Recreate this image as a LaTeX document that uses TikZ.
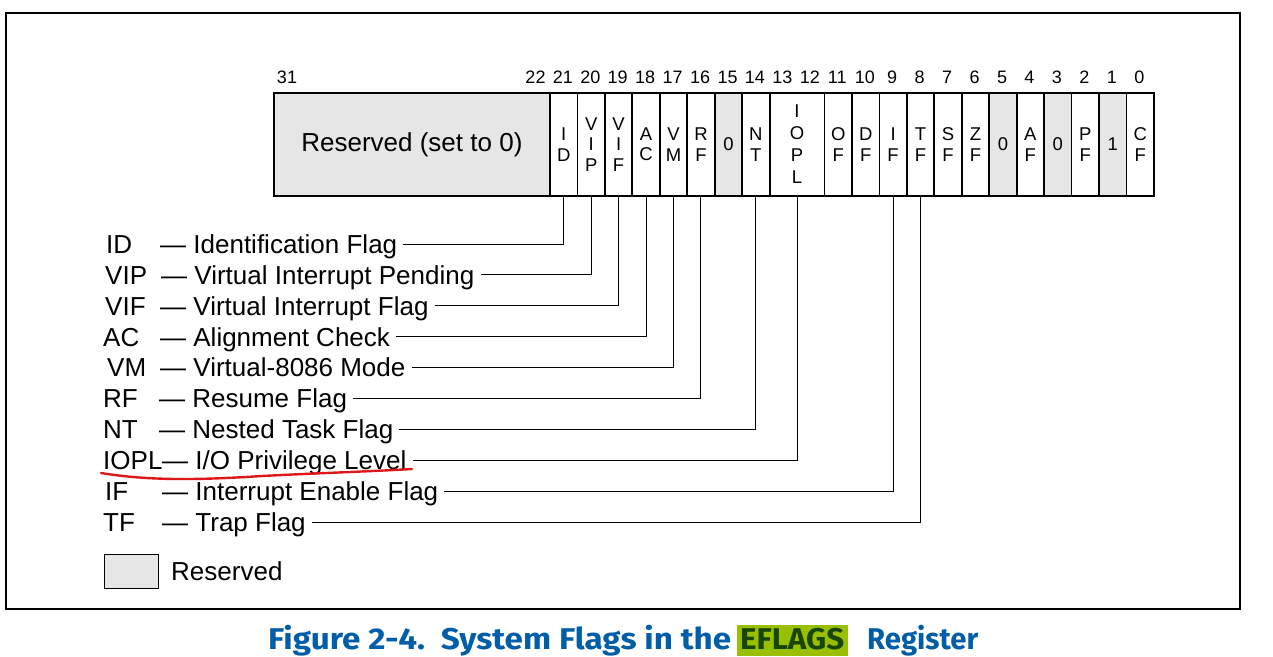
\documentclass[tikz,border=0pt]{standalone}
\usepackage{fontspec}
\setmainfont{Liberation Sans}
\newfontfamily\capfont{Fira Sans}
\usepackage{graphicx}
\definecolor{resgray}{RGB}{230,230,230}
\definecolor{capblue}{RGB}{0,94,168}
\definecolor{hlgreen}{RGB}{153,192,0}
\definecolor{hltext}{RGB}{24,70,0}
\definecolor{penred}{RGB}{222,24,24}
\tikzset{
  cellbox/.style={draw, line width=1.8pt, minimum height=103pt, minimum width=27.45pt,
    inner sep=0pt, anchor=north west, align=center,
    font=\fontsize{18.5}{20.5}\selectfont},
  resbox/.style={cellbox, fill=resgray},
  bitnum/.style={font=\fontsize{18}{18}\selectfont, anchor=base, inner sep=0pt},
  lbl/.style={font=\fontsize{26}{26}\selectfont, anchor=west, inner sep=0pt,
    text height=18.6pt, text depth=0pt},
  leader/.style={line width=1pt},
  capt/.style={font=\capfont\bfseries\fontsize{30}{30}\selectfont, anchor=base west,
    inner sep=0pt, text=capblue},
}
\begin{document}
\begin{tikzpicture}[x=1pt,y=-1pt]
\useasboundingbox (0,0) rectangle (1273,656);
% outer frame
\draw[line width=2pt] (6,13) rectangle (1240,609);

% register
\node[resbox, minimum width=276pt, font=\fontsize{26}{26}\selectfont] (resv) at (273,92) {Reserved (set to 0)};
\foreach \b/\t/\s in {21/{I\\D}/cellbox, 20/{V\\I\\P}/cellbox, 19/{V\\I\\F}/cellbox,
   18/{A\\C}/cellbox, 17/{V\\M}/cellbox, 16/{R\\F}/cellbox, 15/0/resbox,
   14/{N\\T}/cellbox, 11/{O\\F}/cellbox, 10/{D\\F}/cellbox, 9/{I\\F}/cellbox,
   8/{T\\F}/cellbox, 7/{S\\F}/cellbox, 6/{Z\\F}/cellbox, 5/0/resbox,
   4/{A\\F}/cellbox, 3/0/resbox, 2/{P\\F}/cellbox, 1/1/resbox, 0/{C\\F}/cellbox}
  \node[\s] (b\b) at ({1153-(\b+1)*27.45},92) {\t};
\node[cellbox, minimum width=54.9pt, font=\fontsize{18.5}{22}\selectfont] (b13) at ({1153-14*27.45},92) {I\\O\\P\\L};

% bit numbers
\node[bitnum] (n31) at (287,83) {31};
\node[bitnum] (n22) at (535.5,83) {22};
\foreach \b in {21,20,...,0}
  \node[bitnum] (n\b) at ({1153-(\b+0.5)*27.45},83) {\b};

% labels
\foreach \k/\ab/\ax/\de/\dx/\c in {
   0/ID/106/{— Identification Flag}/160/b21,
   1/VIP/105/{— Virtual Interrupt Pending}/161/b20,
   2/VIF/105/{— Virtual Interrupt Flag}/160/b19,
   3/AC/103/{— Alignment Check}/160/b18,
   4/VM/107/{— Virtual-8086 Mode}/160/b17,
   5/RF/103/{— Resume Flag}/159/b16,
   6/NT/103/{— Nested Task Flag}/159/b14,
   7/IOPL/103/{— I/O Privilege Level}/162/b13,
   8/IF/105/{— Interrupt Enable Flag}/162/b9,
   9/TF/103/{— Trap Flag}/162/b8}
{
  \node[lbl] (a\k) at (\ax,{244+30.9*\k}) {\ab};
  \node[lbl] (d\k) at (\dx,{244+30.9*\k}) {\de};
  \draw[leader] (\c.south) |- ([xshift=6pt]d\k.east);
}

% red underline
\draw[penred, line width=2.4pt, line cap=round]
  (101,473) .. controls (150,481) and (200,480) .. (262,476)
            .. controls (320,473) and (380,471) .. (412,469);

% legend
\node[draw, fill=resgray, line width=1pt, minimum width=54pt, minimum height=34pt,
  inner sep=0pt, anchor=north west] (legbox) at (104,554) {};
\node[lbl] (legtxt) at (171,571.5) {Reserved};

% caption
\fill[hlgreen] (737,625) rectangle (848,656);
\node[capt] (cap1) at (268,649) {\resizebox{463pt}{\height}{Figure 2-4.\ \ System Flags in the}};
\node[capt, text=hltext] (cap2) at (740,649) {\resizebox{104pt}{\height}{EFLAGS}};
\node[capt] (cap3) at (867,649) {\resizebox{111pt}{\height}{Register}};
\end{tikzpicture}
\end{document}
